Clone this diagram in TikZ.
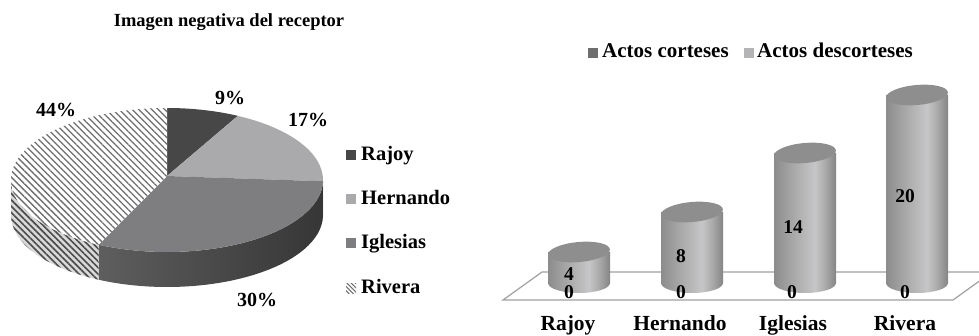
\documentclass[tikz,border=0pt]{standalone}
\usepackage{fontspec}
\setmainfont{Liberation Serif}
\usetikzlibrary{patterns.meta}
\definecolor{c0}{HTML}{8C8C8C}
\definecolor{c1}{HTML}{ABABAB}
\definecolor{c2}{HTML}{C6C6C8}
\definecolor{c3}{HTML}{848484}
\definecolor{rajoyc}{HTML}{474747}
\definecolor{hernc}{HTML}{AAAAAC}
\definecolor{iglc}{HTML}{7E7E80}
\definecolor{sideL}{HTML}{5E5E5E}
\definecolor{sideR}{HTML}{363636}
\definecolor{stripec}{HTML}{6E6E6E}
\definecolor{floorc}{HTML}{A0A0A0}
\definecolor{cyltopc}{HTML}{8E8E8E}
\definecolor{cortc}{HTML}{6E6E6E}
\definecolor{descc}{HTML}{B4B4B6}
\pgfdeclarehorizontalshading{cyl}{100bp}{color(0bp)=(c0); color(25bp)=(c0); color(42bp)=(c1); color(58bp)=(c2); color(66bp)=(c1); color(75bp)=(c3); color(100bp)=(c3)}
\newcommand\drawcyl[2]{%
  \shade[shading=cyl] ({#1-31},#2) -- ({#1-31},52) arc[start angle=180,end angle=360,x radius=31,y radius=10] -- ({#1+31},#2) -- cycle;
  \fill[cyltopc, rotate around={5:(#1,#2)}] (#1,#2) ellipse[x radius=31, y radius=10];
}
\begin{document}
\begin{tikzpicture}[x=1pt,y=1pt,
  ttl/.style={font=\bfseries\fontsize{18.5}{21}\selectfont, inner sep=0pt, anchor=base},
  pct/.style={font=\bfseries\fontsize{20}{23}\selectfont, inner sep=0pt, anchor=base},
  val/.style={font=\bfseries\fontsize{19.5}{22}\selectfont, inner sep=0pt, anchor=base},
  pleg/.style={font=\bfseries\fontsize{20.5}{24}\selectfont, inner sep=0pt, anchor=base west},
  bleg/.style={font=\bfseries\fontsize{21}{24}\selectfont, inner sep=0pt, anchor=base west},
  cat/.style={font=\bfseries\fontsize{21.5}{24}\selectfont, inner sep=0pt, anchor=base},
  lsq/.style={minimum size=10pt, inner sep=0pt, draw=none},
  stripes/.style={pattern={Lines[angle=-45, distance=4.6pt, line width=1.3pt]}, pattern color=stripec},
  sidestripes/.style={pattern={Lines[angle=-45, distance=4.5pt, line width=1.6pt]}, pattern color=black!70}]
\useasboundingbox (0,0) rectangle (979,335);
% ---------------- Pie ----------------
\def\cx{167}\def\cy{155}\def\rx{156}\def\ry{72}\def\dep{35}
\coordinate (O) at (167,159);
% sides
\fill[gray!60] ({\cx+\rx*cos(0)},{\cy+\ry*sin(0)}) arc[start angle=0, end angle=-1, x radius=\rx, y radius=\ry] -- ++(0,-\dep) arc[start angle=-1, end angle=0, x radius=\rx, y radius=\ry] -- cycle;
\shade[left color=sideL, right color=sideR] ({\cx+\rx*cos(-1)},{\cy+\ry*sin(-1)}) arc[start angle=-1, end angle=-116, x radius=\rx, y radius=\ry] -- ++(0,-\dep) arc[start angle=-116, end angle=-1, x radius=\rx, y radius=\ry] -- cycle;
\path[fill=gray!30, postaction={sidestripes}] ({\cx+\rx*cos(-116)},{\cy+\ry*sin(-116)}) arc[start angle=-116, end angle=-180, x radius=\rx, y radius=\ry] -- ++(0,-\dep) arc[start angle=-180, end angle=-116, x radius=\rx, y radius=\ry] -- cycle;
% top faces
\fill[rajoyc] (O) -- ({\cx+\rx*cos(90)},{\cy+\ry*sin(90)}) arc[start angle=90, end angle=63, x radius=\rx, y radius=\ry] -- cycle;
\fill[hernc] (O) -- ({\cx+\rx*cos(63)},{\cy+\ry*sin(63)}) arc[start angle=63, end angle=-1, x radius=\rx, y radius=\ry] -- cycle;
\fill[iglc] (O) -- ({\cx+\rx*cos(-1)},{\cy+\ry*sin(-1)}) arc[start angle=-1, end angle=-116, x radius=\rx, y radius=\ry] -- cycle;
\path[fill=white, postaction={stripes}] (O) -- ({\cx+\rx*cos(-116)},{\cy+\ry*sin(-116)}) arc[start angle=-116, end angle=-270, x radius=\rx, y radius=\ry] -- cycle;
% title and percentages
\node[ttl] (title) at (229,308) {Imagen negativa del receptor};
\node[pct] (p9) at (230,230) {9\%};
\node[pct] (p17) at (308,208) {17\%};
\node[pct] (p44) at (56,218) {44\%};
\node[pct] (p30) at (257,29) {30\%};
% pie legend
\node[lsq, fill=rajoyc] (sqr) at (351,180) {};
\node[lsq, fill=hernc] (sqh) at (351,136) {};
\node[lsq, fill=iglc] (sqi) at (351,92) {};
\node[lsq, fill=white, postaction={pattern={Lines[angle=-45, distance=3pt, line width=1pt]}, pattern color=stripec}] (sqv) at (351,47) {};
\node[pleg] (lr) at (361,175) {Rajoy};
\node[pleg] (lh) at (361,131) {Hernando};
\node[pleg] (li) at (361,87) {Iglesias};
\node[pleg] (lv) at (361,42) {Rivera};
% ---------------- Bars ----------------
\draw[floorc, line width=1.2pt] (979,63) -- (542,63) -- (503,35) -- (953,35) -- (979,53.7);
\drawcyl{579}{83}
\drawcyl{692}{123}
\drawcyl{805}{182}
\drawcyl{917}{240}
\node[val] (v4) at (569,55) {4};
\node[val] (v8) at (681,73) {8};
\node[val] (v14) at (793,102) {14};
\node[val] (v20) at (905,132) {20};
\node[val] (z1) at (569,37) {0};
\node[val] (z2) at (681,37) {0};
\node[val] (z3) at (792,37) {0};
\node[val] (z4) at (905,37) {0};
\node[cat] (cr) at (568,5) {Rajoy};
\node[cat] (ch) at (680,5) {Hernando};
\node[cat] (ci) at (793,5) {Iglesias};
\node[cat] (cv) at (905,5) {Rivera};
% bar legend
\node[lsq, fill=cortc] (sqc) at (592.5,282) {};
\node[lsq, fill=descc] (sqd) at (748.5,282) {};
\node[bleg] (lc) at (602,277) {Actos corteses};
\node[bleg] (ld) at (757,277) {Actos descorteses};
\end{tikzpicture}
\end{document}
